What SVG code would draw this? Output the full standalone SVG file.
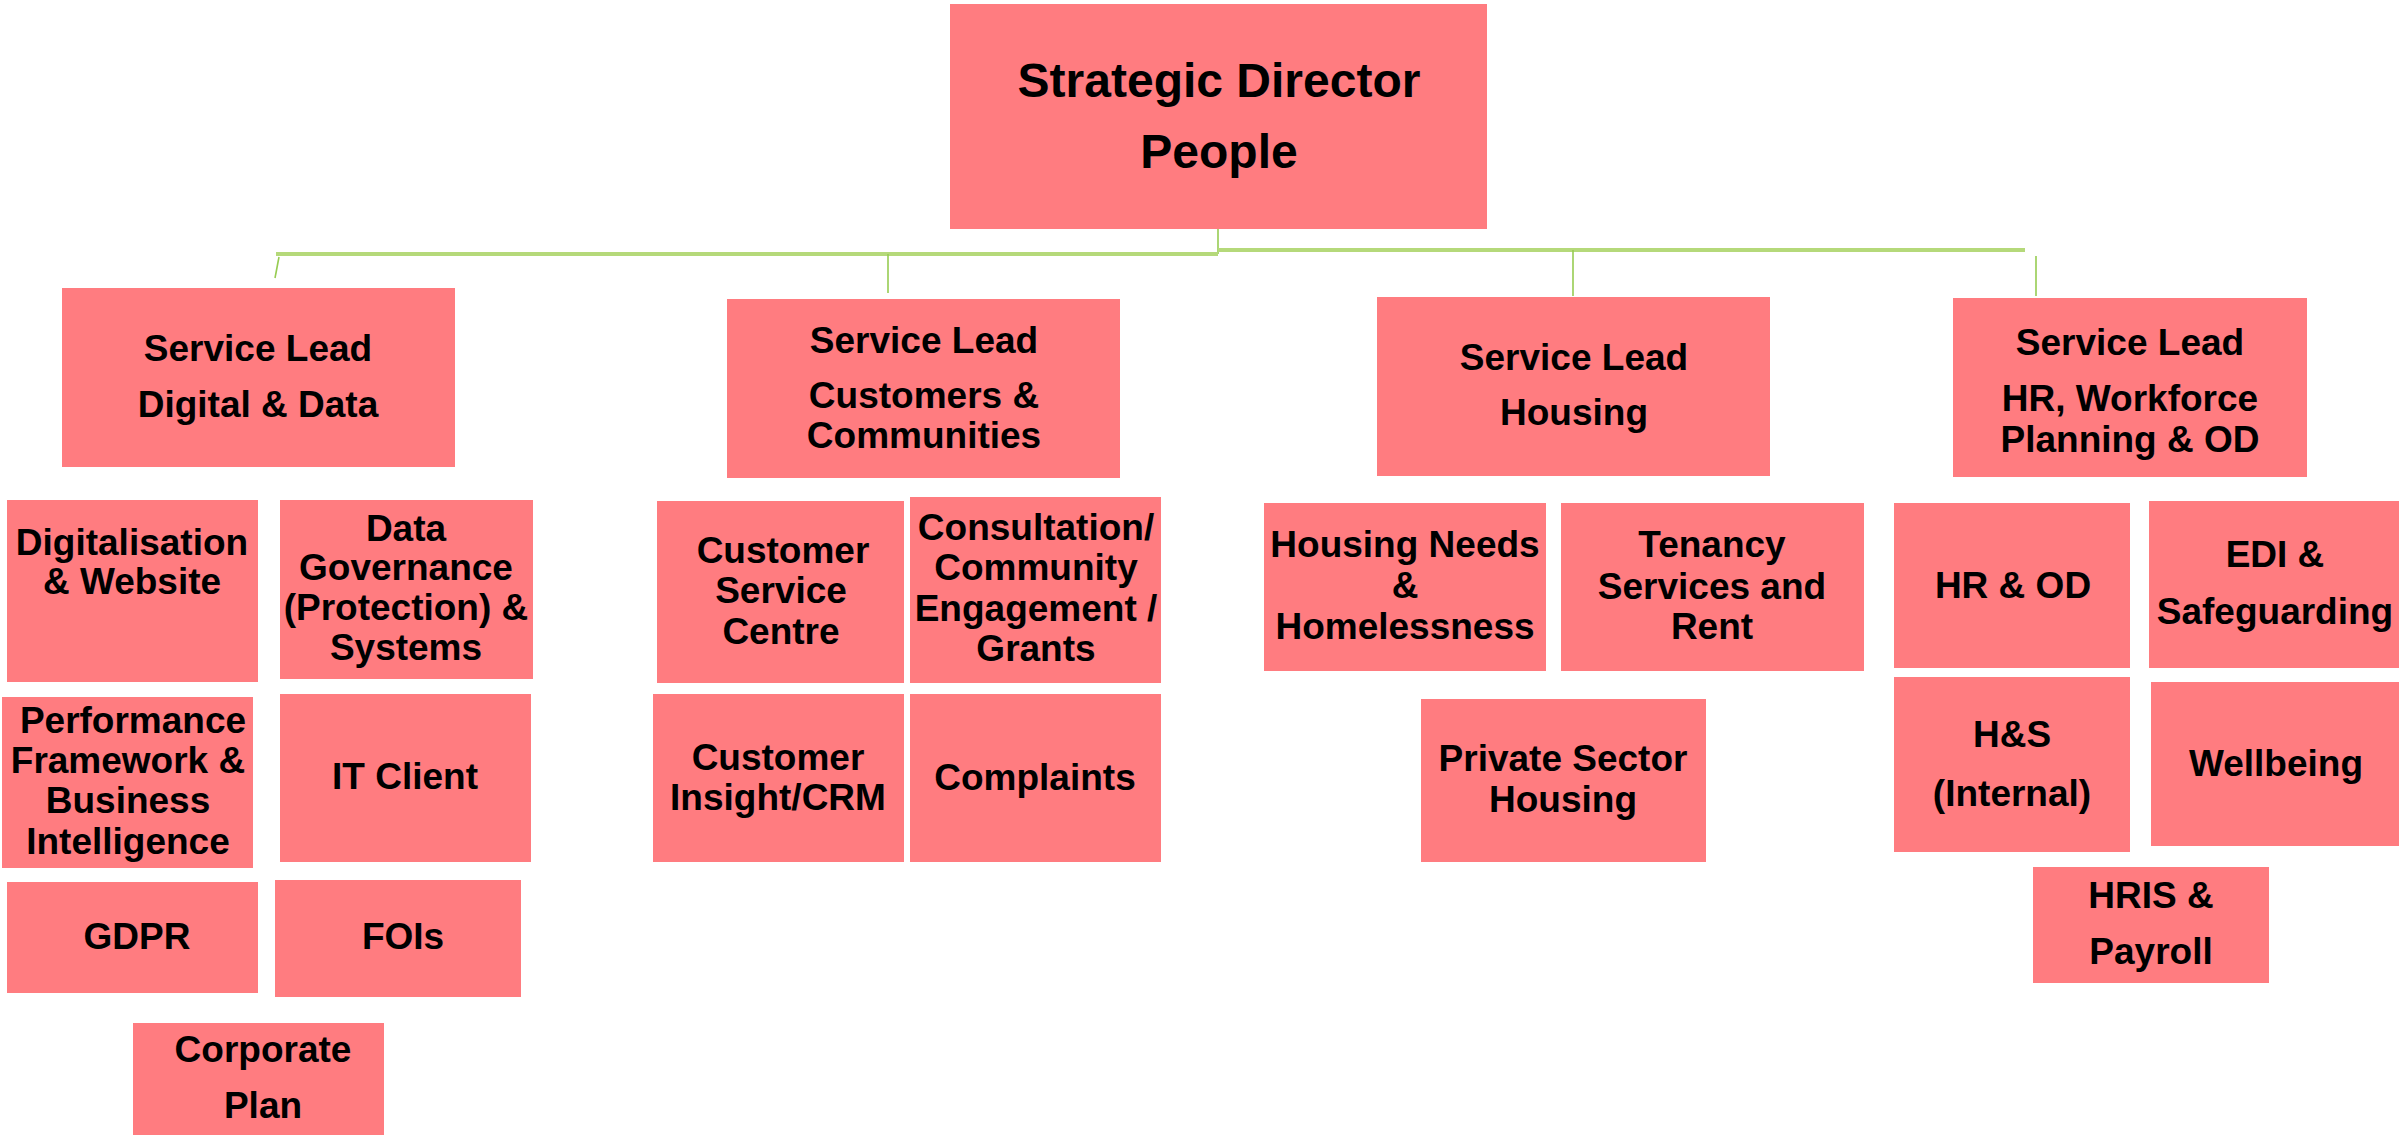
<svg xmlns="http://www.w3.org/2000/svg" width="2408" height="1138" viewBox="0 0 2408 1138">
<style>
.box{fill:#FF7C80;}
.t{font-family:"Liberation Sans",Arial,sans-serif;font-weight:bold;font-size:37px;fill:#000;text-anchor:middle;}
.tb{font-size:48px;}
.h{stroke:#b5d97a;stroke-width:4;fill:none;}
.v{stroke:#97cc52;stroke-width:1.6;fill:none;}
</style>
<rect width="2408" height="1138" fill="#ffffff"/>
<g id="connectors">
<line class="v" x1="1218" y1="228" x2="1218" y2="254"/>
<line class="h" x1="276" y1="254" x2="1218" y2="254"/>
<line class="h" x1="1218" y1="250" x2="2025" y2="250"/>
<line class="v" x1="279" y1="257" x2="275" y2="278"/>
<line class="v" x1="888" y1="254" x2="888" y2="293"/>
<line class="v" x1="1573" y1="250" x2="1573" y2="296"/>
<line class="v" x1="2036" y1="256" x2="2036" y2="296"/>
</g>
<g id="strategic-director">
<rect class="box" x="950" y="4" width="537" height="225"/>
<text class="t tb" x="1219" y="97">Strategic Director</text>
<text class="t tb" x="1219" y="168">People</text>
</g>
<g id="sl-digital">
<rect class="box" x="62" y="288" width="393" height="179"/>
<text class="t" x="258" y="361">Service Lead</text>
<text class="t" x="258" y="417">Digital &amp; Data</text>
</g>
<g id="digitalisation">
<rect class="box" x="7" y="500" width="251" height="182"/>
<text class="t" x="132" y="555">Digitalisation</text>
<text class="t" x="132" y="594">&amp; Website</text>
</g>
<g id="data-governance">
<rect class="box" x="280" y="500" width="253" height="179"/>
<text class="t" x="406" y="541">Data</text>
<text class="t" x="406" y="580">Governance</text>
<text class="t" x="406" y="620">(Protection) &amp;</text>
<text class="t" x="406" y="660">Systems</text>
</g>
<g id="performance">
<rect class="box" x="2" y="697" width="251" height="171"/>
<text class="t" x="133" y="733">Performance</text>
<text class="t" x="128" y="773">Framework &amp;</text>
<text class="t" x="128" y="813">Business</text>
<text class="t" x="128" y="854">Intelligence</text>
</g>
<g id="it-client">
<rect class="box" x="280" y="694" width="251" height="168"/>
<text class="t" x="405" y="789">IT Client</text>
</g>
<g id="gdpr">
<rect class="box" x="7" y="882" width="251" height="111"/>
<text class="t" x="137" y="949">GDPR</text>
</g>
<g id="fois">
<rect class="box" x="275" y="880" width="246" height="117"/>
<text class="t" x="403" y="949">FOIs</text>
</g>
<g id="corporate-plan">
<rect class="box" x="133" y="1023" width="251" height="112"/>
<text class="t" x="263" y="1062">Corporate</text>
<text class="t" x="263" y="1118">Plan</text>
</g>
<g id="sl-customers">
<rect class="box" x="727" y="299" width="393" height="179"/>
<text class="t" x="924" y="353">Service Lead</text>
<text class="t" x="924" y="408">Customers &amp;</text>
<text class="t" x="924" y="448">Communities</text>
</g>
<g id="customer-service-centre">
<rect class="box" x="657" y="501" width="247" height="182"/>
<text class="t" x="783" y="563">Customer</text>
<text class="t" x="781" y="603">Service</text>
<text class="t" x="781" y="644">Centre</text>
</g>
<g id="consultation">
<rect class="box" x="910" y="497" width="251" height="186"/>
<text class="t" x="1036" y="540">Consultation/</text>
<text class="t" x="1036" y="580">Community</text>
<text class="t" x="1036" y="621">Engagement /</text>
<text class="t" x="1036" y="661">Grants</text>
</g>
<g id="customer-insight">
<rect class="box" x="653" y="694" width="251" height="168"/>
<text class="t" x="778" y="770">Customer</text>
<text class="t" x="778" y="810">Insight/CRM</text>
</g>
<g id="complaints">
<rect class="box" x="910" y="694" width="251" height="168"/>
<text class="t" x="1035" y="790">Complaints</text>
</g>
<g id="sl-housing">
<rect class="box" x="1377" y="297" width="393" height="179"/>
<text class="t" x="1574" y="370">Service Lead</text>
<text class="t" x="1574" y="425">Housing</text>
</g>
<g id="housing-needs">
<rect class="box" x="1264" y="503" width="282" height="168"/>
<text class="t" x="1405" y="557">Housing Needs</text>
<text class="t" x="1405" y="598">&amp;</text>
<text class="t" x="1405" y="639">Homelessness</text>
</g>
<g id="tenancy">
<rect class="box" x="1561" y="503" width="303" height="168"/>
<text class="t" x="1712" y="557">Tenancy</text>
<text class="t" x="1712" y="599">Services and</text>
<text class="t" x="1712" y="639">Rent</text>
</g>
<g id="private-sector">
<rect class="box" x="1421" y="699" width="285" height="163"/>
<text class="t" x="1563" y="771">Private Sector</text>
<text class="t" x="1563" y="812">Housing</text>
</g>
<g id="sl-hr">
<rect class="box" x="1953" y="298" width="354" height="179"/>
<text class="t" x="2130" y="355">Service Lead</text>
<text class="t" x="2130" y="411">HR, Workforce</text>
<text class="t" x="2130" y="452">Planning &amp; OD</text>
</g>
<g id="hr-od">
<rect class="box" x="1894" y="503" width="236" height="165"/>
<text class="t" x="2013" y="598">HR &amp; OD</text>
</g>
<g id="edi">
<rect class="box" x="2149" y="501" width="250" height="167"/>
<text class="t" x="2275" y="567">EDI &amp;</text>
<text class="t" x="2275" y="624">Safeguarding</text>
</g>
<g id="hs">
<rect class="box" x="1894" y="677" width="236" height="175"/>
<text class="t" x="2012" y="747">H&amp;S</text>
<text class="t" x="2012" y="806">(Internal)</text>
</g>
<g id="wellbeing">
<rect class="box" x="2151" y="682" width="248" height="164"/>
<text class="t" x="2276" y="776">Wellbeing</text>
</g>
<g id="hris">
<rect class="box" x="2033" y="867" width="236" height="116"/>
<text class="t" x="2151" y="908">HRIS &amp;</text>
<text class="t" x="2151" y="964">Payroll</text>
</g>
</svg>
